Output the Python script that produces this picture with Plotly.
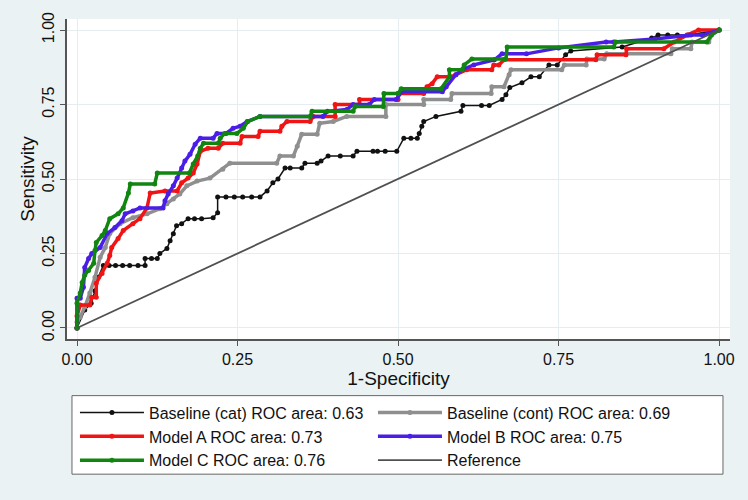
import plotly.graph_objects as go

# ROC points (1-specificity, sensitivity)
cat_x = [0, 0.012, 0.022, 0.028, 0.033, 0.041, 0.05, 0.06, 0.071, 0.082, 0.095, 0.106,
         0.106, 0.116, 0.125, 0.129, 0.14, 0.145, 0.15, 0.155, 0.163, 0.173, 0.183, 0.194,
         0.212, 0.219, 0.219, 0.232, 0.245, 0.258, 0.272, 0.285, 0.296, 0.305, 0.313, 0.324,
         0.332, 0.35, 0.355, 0.374, 0.38, 0.391, 0.41, 0.43, 0.436, 0.461, 0.468, 0.48,
         0.498, 0.509, 0.52, 0.53, 0.533, 0.537, 0.54, 0.559, 0.598, 0.601, 0.63, 0.642,
         0.662, 0.668, 0.674, 0.693, 0.707, 0.72, 0.735, 0.748, 0.761, 0.769, 0.849, 0.895,
         0.905, 0.92, 0.935, 0.952, 1.0]
cat_y = [0, 0.06, 0.083, 0.125, 0.17, 0.21, 0.21, 0.21, 0.21, 0.21, 0.21, 0.21,
         0.233, 0.233, 0.233, 0.25, 0.267, 0.293, 0.316, 0.343, 0.35, 0.367, 0.367, 0.367,
         0.37, 0.387, 0.44, 0.44, 0.44, 0.44, 0.44, 0.44, 0.46, 0.487, 0.5, 0.537,
         0.537, 0.537, 0.553, 0.553, 0.56, 0.577, 0.577, 0.577, 0.593, 0.593, 0.593, 0.593,
         0.593, 0.637, 0.637, 0.637, 0.653, 0.677, 0.693, 0.71, 0.727, 0.747, 0.747, 0.747,
         0.767, 0.783, 0.807, 0.823, 0.843, 0.843, 0.883, 0.883, 0.917, 0.93, 0.943, 0.973,
         0.983, 0.983, 0.983, 0.983, 1.0]

cont_x = [0, 0, 0.005, 0.012, 0.02, 0.028, 0.036, 0.044, 0.051, 0.067, 0.087, 0.109,
          0.129, 0.14, 0.15, 0.16, 0.171, 0.187, 0.207, 0.227, 0.238, 0.311, 0.316, 0.337,
          0.343, 0.35, 0.374, 0.378, 0.399, 0.42, 0.481, 0.481, 0.54, 0.54, 0.582, 0.584,
          0.645, 0.646, 0.665, 0.673, 0.676, 0.755, 0.759, 0.793, 0.794, 0.821, 0.825, 0.925,
          0.927, 0.956, 0.958, 0.984, 0.988, 1.0]
cont_y = [0, 0.02, 0.037, 0.07, 0.117, 0.17, 0.237, 0.27, 0.317, 0.35, 0.37, 0.383,
          0.4, 0.417, 0.433, 0.45, 0.477, 0.493, 0.503, 0.533, 0.553, 0.553, 0.577, 0.577,
          0.61, 0.65, 0.65, 0.687, 0.693, 0.71, 0.71, 0.75, 0.75, 0.767, 0.767, 0.787,
          0.787, 0.81, 0.81, 0.85, 0.867, 0.867, 0.883, 0.883, 0.903, 0.903, 0.92, 0.92,
          0.937, 0.937, 0.96, 0.96, 0.983, 1.0]

a_x = [0, 0, 0.005, 0.02, 0.023, 0.03, 0.03, 0.039, 0.047, 0.051, 0.054, 0.064, 0.072,
       0.087, 0.098, 0.109, 0.114, 0.137, 0.156, 0.163, 0.173, 0.181, 0.187, 0.192, 0.204,
       0.22, 0.227, 0.254, 0.257, 0.282, 0.285, 0.316, 0.319, 0.327, 0.363, 0.368, 0.402,
       0.402, 0.44, 0.44, 0.5, 0.5, 0.54, 0.545, 0.553, 0.561, 0.583, 0.59, 0.607, 0.646,
       0.649, 0.657, 0.665, 0.808, 0.81, 0.855, 0.856, 0.914, 0.93, 0.95, 0.968, 1.0]
a_y = [0, 0.04, 0.077, 0.077, 0.103, 0.103, 0.15, 0.183, 0.217, 0.243, 0.27, 0.3, 0.327,
       0.35, 0.367, 0.403, 0.453, 0.46, 0.46, 0.487, 0.503, 0.52, 0.55, 0.593, 0.603,
       0.603, 0.62, 0.62, 0.643, 0.643, 0.66, 0.66, 0.677, 0.693, 0.693, 0.71, 0.71,
       0.75, 0.75, 0.767, 0.767, 0.787, 0.787, 0.81, 0.82, 0.843, 0.843, 0.85, 0.867, 0.867,
       0.883, 0.883, 0.9, 0.9, 0.917, 0.917, 0.937, 0.937, 0.96, 0.983, 1.0, 1.0]

b_x = [0, 0, 0.005, 0.01, 0.012, 0.018, 0.023, 0.036, 0.047, 0.059, 0.07, 0.075, 0.087,
       0.098, 0.134, 0.137, 0.142, 0.15, 0.156, 0.163, 0.168, 0.176, 0.184, 0.192, 0.212,
       0.218, 0.232, 0.243, 0.254, 0.265, 0.285, 0.383, 0.39, 0.42, 0.43, 0.455, 0.463,
       0.497, 0.506, 0.569, 0.575, 0.59, 0.6, 0.618, 0.65, 0.662, 0.7, 0.75, 0.824, 0.836,
       0.9, 0.956, 0.974, 1.0]
b_y = [0, 0.1, 0.1, 0.137, 0.203, 0.233, 0.25, 0.27, 0.317, 0.337, 0.36, 0.383, 0.393,
       0.403, 0.403, 0.427, 0.45, 0.477, 0.503, 0.537, 0.56, 0.583, 0.617, 0.637, 0.637,
       0.653, 0.653, 0.67, 0.677, 0.693, 0.71, 0.71, 0.727, 0.733, 0.75, 0.75, 0.767,
       0.767, 0.793, 0.793, 0.81, 0.85, 0.867, 0.883, 0.9, 0.92, 0.92, 0.94, 0.96, 0.96,
       0.97, 0.983, 0.983, 1.0]

c_x = [0, 0, 0.005, 0.008, 0.012, 0.018, 0.026, 0.028, 0.03, 0.039, 0.044, 0.051, 0.064,
       0.072, 0.08, 0.083, 0.121, 0.125, 0.175, 0.181, 0.188, 0.192, 0.197, 0.22, 0.223,
       0.23, 0.249, 0.259, 0.266, 0.285, 0.363, 0.366, 0.43, 0.433, 0.477, 0.478, 0.5,
       0.505, 0.567, 0.58, 0.58, 0.6, 0.603, 0.615, 0.668, 0.67, 0.836, 0.839, 0.981,
       0.988, 1.0]
c_y = [0, 0.083, 0.117, 0.153, 0.177, 0.193, 0.217, 0.26, 0.287, 0.31, 0.327, 0.367, 0.383,
       0.403, 0.453, 0.483, 0.483, 0.52, 0.52, 0.55, 0.577, 0.603, 0.62, 0.62, 0.637,
       0.653, 0.653, 0.67, 0.693, 0.71, 0.71, 0.727, 0.727, 0.743, 0.743, 0.787, 0.787,
       0.803, 0.803, 0.843, 0.867, 0.867, 0.883, 0.903, 0.903, 0.943, 0.943, 0.96, 0.96,
       0.983, 1.0]

ref_x = [0, 1]
ref_y = [0, 1]

names = [
    "Baseline (cat) ROC area: 0.63",
    "Baseline (cont) ROC area: 0.69",
    "Model A ROC area: 0.73",
    "Model B ROC area: 0.75",
    "Model C ROC area: 0.76",
    "Reference",
]
ticks = [0, 0.25, 0.5, 0.75, 1]

FONT = "Liberation Sans, Arial, sans-serif"
BG = "#eaf2f3"

fig = go.Figure()

# baseline categorical: thin line with dots
fig.add_trace(go.Scatter(x=cat_x, y=cat_y, mode="lines+markers", name=names[0],
                         line=dict(color="#111111", width=1.5),
                         marker=dict(color="#111111", size=5)))

curves = [
    (cont_x, cont_y, names[1], "#8f8f8f"),
    (a_x, a_y, names[2], "#f01414"),
    (b_x, b_y, names[3], "#4a1ee6"),
    (c_x, c_y, names[4], "#108510"),
]
for xs, ys, nm, col in curves:
    fig.add_trace(go.Scatter(x=xs, y=ys, mode="lines+markers", name=nm,
                             line=dict(color=col, width=3.5),
                             marker=dict(color=col, size=5)))

fig.add_trace(go.Scatter(x=ref_x, y=ref_y, mode="lines", name=names[5],
                         line=dict(color="#505050", width=1.8)))

# legend frame (stata-like box below the plot)
fig.add_shape(type="rect", xref="paper", yref="paper",
              x0=0.0075, x1=0.9894, y0=-0.177, y1=-0.4224,
              fillcolor="white", line=dict(color="#666666", width=1), layer="below")

fig.update_layout(
    width=748, height=500,
    margin=dict(l=67, r=18, t=17, b=161),
    paper_bgcolor=BG,
    plot_bgcolor="white",
    font=dict(family=FONT, size=16, color="#111111"),
    showlegend=True,
    legend=dict(
        orientation="h",
        x=0.012, y=-0.177, xanchor="left", yanchor="top",
        entrywidth=219, entrywidthmode="pixels",
        itemwidth=64,
        bgcolor="rgba(0,0,0,0)", borderwidth=0,
        font=dict(family=FONT, size=16, color="#111111"),
        tracegroupgap=0,
    ),
)
fig.update_xaxes(
    range=[-0.0156, 1.017], tickvals=ticks, tickformat=".2f",
    ticks="outside", ticklen=5, tickcolor="#555555",
    showline=True, linecolor="#555555", linewidth=1.5,
    showgrid=True, gridcolor="#e4edef", zeroline=False,
    title=dict(text="1-Specificity", standoff=5),
)
fig.update_yaxes(
    range=[-0.037, 1.037], tickvals=ticks, tickformat=".2f", tickangle=-90,
    ticks="outside", ticklen=5, tickcolor="#555555",
    showline=True, linecolor="#555555", linewidth=1.5,
    showgrid=True, gridcolor="#e4edef", zeroline=False,
    title=dict(text="Sensitivity", standoff=0),
)

fig.write_html(
    "out.html",
    config={"displayModeBar": False},
    post_script=f"document.body.style.margin='0';document.body.style.background='{BG}';",
)
